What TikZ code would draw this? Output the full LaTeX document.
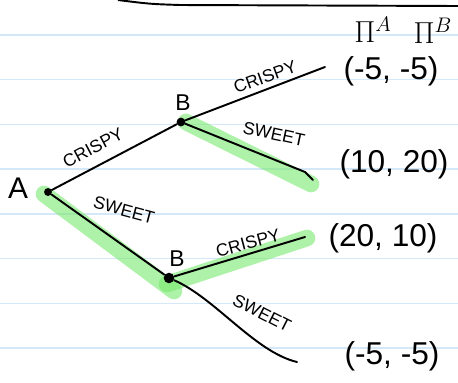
\documentclass[tikz,border=0pt]{standalone}
\usepackage{fontspec}
\setsansfont{Liberation Sans}
\usetikzlibrary{positioning}

\begin{document}
\begin{tikzpicture}[
    x=0.02cm, y=-0.02cm,
    font=\sffamily,
    rule/.style={line width=0.8pt, color={rgb,255:red,212;green,232;blue,247}},
    dot/.style={circle, fill=black, inner sep=0pt, minimum size=5pt},
    branch/.style={line width=1.1pt, line cap=round, line join=round},
    hilite/.style={line width=9.5pt, line cap=round, color={rgb,255:red,120;green,232;blue,110}, opacity=0.6},
    act/.style={inner sep=1pt, font=\sffamily\fontsize{10}{12}\selectfont},
    pay/.style={inner sep=1pt, font=\sffamily\fontsize{18}{20}\selectfont},
    who/.style={inner sep=1pt, font=\sffamily\fontsize{13}{15}\selectfont},
  ]
    \useasboundingbox (0,0) rectangle (458,383);
    % ruled paper
    \foreach \i in {0,...,7}
      \draw[rule] (0,35+44.7*\i) -- (458,35+44.7*\i);
    \draw[line width=1.1pt] (118,0) .. controls (150,4) .. (180,5) -- (458,6);

    % equilibrium path (under everything else)
    \draw[hilite] (44,194) -- (174,291);
    \draw[hilite] (186,122) -- (311,184);
    \draw[hilite] (167,284) -- (307,238);

    % decision nodes
    \node[dot, minimum size=4.5pt] (A) at (48,192) {};
    \node[dot] (Btop) at (181,122) {};
    \node[dot, minimum size=6pt] (Bbot) at (169,278) {};
    \node[font=\sffamily\fontsize{17}{19}\selectfont] (labA) at (18,188) {A};
    \node[who] (labB1) at (183,103) {B};
    \node[who] (labB2) at (177,259) {B};

    % leaf ends
    \coordinate (c1) at (325,67);
    \coordinate (s1) at (313,180);
    \coordinate (c2) at (305,237);
    \coordinate (s2) at (297,362);

    % branches
    \draw[branch] (A) -- (Btop);
    \draw[branch] (Btop) -- (c1);
    \draw[branch] (Btop) -- (305,172) -- (s1);
    \draw[branch] (A) -- (Bbot);
    \draw[branch] (Bbot) -- (c2);
    \draw[branch] (Bbot) .. controls (215,298) and (255,352) .. (s2);

    % actions
    \node[act, rotate=28] (crA) at (93,148) {CRISPY};
    \node[act, rotate=-15] (swA) at (124,210) {SWEET};
    \node[act, rotate=20] (crB1) at (265,77) {CRISPY};
    \node[act, rotate=-12] (swB1) at (274,134) {SWEET};
    \node[act, rotate=15] (crB2) at (248,243) {CRISPY};
    \node[act, rotate=-27] (swB2) at (262,313) {SWEET};

    % payoffs
    \node[pay] (piA) at (373,30) {$\Pi^{A}$};
    \node[pay] (piB) at (433,31) {$\Pi^{B}$};
    \node[pay] (p1) at (391,71) {(-5, -5)};
    \node[pay] (p2) at (394,164) {(10, 20)};
    \node[pay] (p3) at (383,238) {(20, 10)};
    \node[pay] (p4) at (392,356) {(-5, -5)};
  \end{tikzpicture}
\end{document}
